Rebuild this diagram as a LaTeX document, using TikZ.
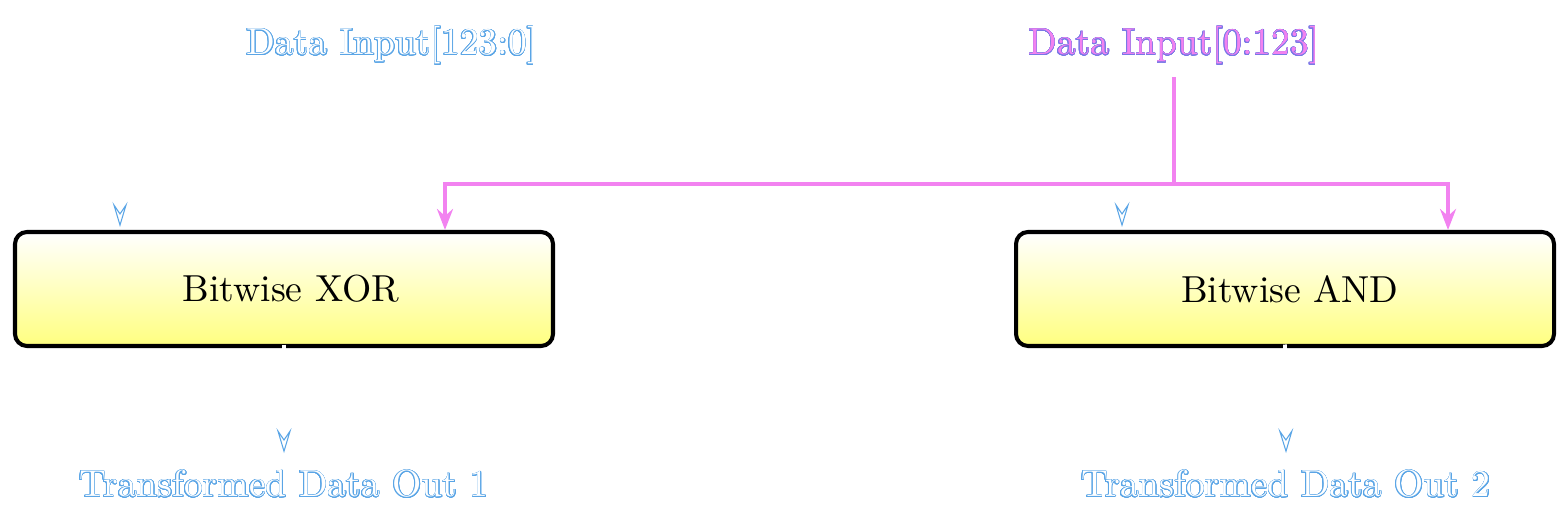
\documentclass[tikz,border=0pt]{standalone}
\usepackage[copies]{contour}
\usetikzlibrary{arrows.meta}
\definecolor{pinkc}{RGB}{242,130,240}
\definecolor{outl}{RGB}{90,165,230}
\definecolor{poutl}{RGB}{120,120,230}
\contourlength{0.18pt}
\contournumber{24}
\begin{document}
\begin{tikzpicture}[x=1cm,y=1cm,
  font=\fontsize{10.7}{13}\selectfont,
  box/.style={draw=black, line width=1.15pt, rounded corners=0.12cm,
    top color=white, bottom color=yellow!50,
    minimum width=5.38cm, minimum height=1.14cm, inner sep=0pt},
  ghost/.style={white, line width=1.1pt,
    -{Stealth[length=0.25cm, width=0.15cm, inset=0.11cm, color=outl, fill=white, line width=0.3pt]}},
  pk/.style={pinkc, line width=1.15pt,
    -{Stealth[length=0.21cm, width=0.16cm, inset=0.07cm]}}
]
\useasboundingbox (0,0) rectangle (15.6,-5.18);

\node[anchor=base] (in1) at (3.92,-0.55) {\contour{outl}{\textcolor{white}{Data Input[123:0]}}};
\node[anchor=base] (in2) at (11.74,-0.55) {\contourlength{0.12pt}\contour{poutl}{\textcolor{pinkc}{Data Input[0:123]}}};

\node[box] (xor) at (2.84,-2.89) {\hspace{0.14cm}Bitwise XOR};
\node[box] (and) at (12.85,-2.89) {\hspace{0.1cm}Bitwise AND};

\node[anchor=base] (o1) at (2.84,-4.97) {\contour{outl}{\textcolor{white}{Transformed Data Out 1}}};
\node[anchor=base] (o2) at (12.86,-4.97) {\contour{outl}{\textcolor{white}{Transformed Data Out 2}}};

% invisible (white) connectors
\draw[ghost] (in1.south) -- ++(0,-1.0) coordinate (k) -| ([xshift=-1.64cm,yshift=0.03cm]xor.north);
\draw[ghost] (k) -| ([xshift=-1.63cm,yshift=0.03cm]and.north);
\draw[ghost] ([yshift=1pt]xor.south) -- ([yshift=0.05cm]o1.north);
\draw[ghost] ([yshift=1pt]and.south) -- ([yshift=0.05cm]o2.north);

% pink connectors
\draw[pk] (in2.south) -- ++(0,-1.07) coordinate (j) -| ([xshift=1.61cm]xor.north);
\draw[pk] (j) -| ([xshift=1.63cm]and.north);
\end{tikzpicture}
\end{document}
